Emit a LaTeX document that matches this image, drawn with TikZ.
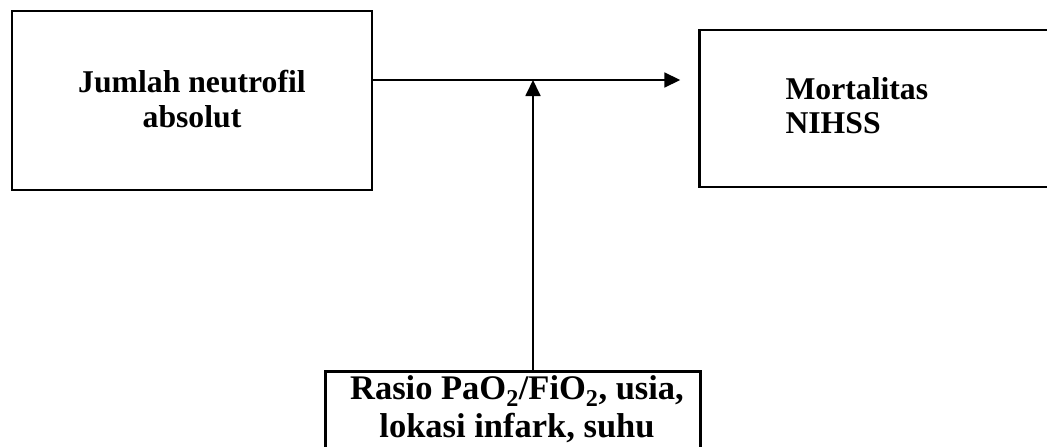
\documentclass[tikz,border=0pt]{standalone}
\usepackage{fontspec}
\setmainfont{Liberation Serif}
\usetikzlibrary{arrows.meta,positioning}

\begin{document}
\begin{tikzpicture}[
  x=1pt,y=-1pt,
  font=\fontsize{31.7}{35}\selectfont\bfseries,
  box/.style={draw,line width=2.6pt,inner sep=0pt},
  lbl/.style={inner sep=0pt,align=center},
  ar/.style={-{Triangle[length=16pt,width=15pt]},line width=1.8pt}]

\useasboundingbox (0,0) rectangle (1047,447);
\clip (0,0) rectangle (1047,447);

\node[box,minimum width=360pt,minimum height=179pt] (nlr) at (192,100.5) {};
\node[box,minimum width=370pt,minimum height=157pt,
      below right=19pt and 325pt of nlr.north east] (out) {};
\node[box,minimum width=375pt,minimum height=100pt,
      below right=179pt and -49pt of nlr.south east] (cov) {};

\node[lbl] (nlrtxt) at ([yshift=1pt]nlr.center) {Jumlah neutrofil\\absolut};
\node[lbl,align=left,anchor=west] (outtxt) at ([xshift=87pt,yshift=3pt]out.west)
  {Mortalitas\\[-1pt]NIHSS};
\node[lbl,font=\fontsize{34.5}{37.5}\selectfont\bfseries] (covtxt) at (517,409)
  {Rasio PaO\textsubscript{2}/FiO\textsubscript{2}, usia,\\lokasi infark, suhu};

\coordinate (mid) at (533,80);
\draw[ar] (nlr.east |- mid) -- ([xshift=-18pt]out.west |- mid);
\draw[ar] (cov.north -| mid) -- (mid);
\end{tikzpicture}
\end{document}
